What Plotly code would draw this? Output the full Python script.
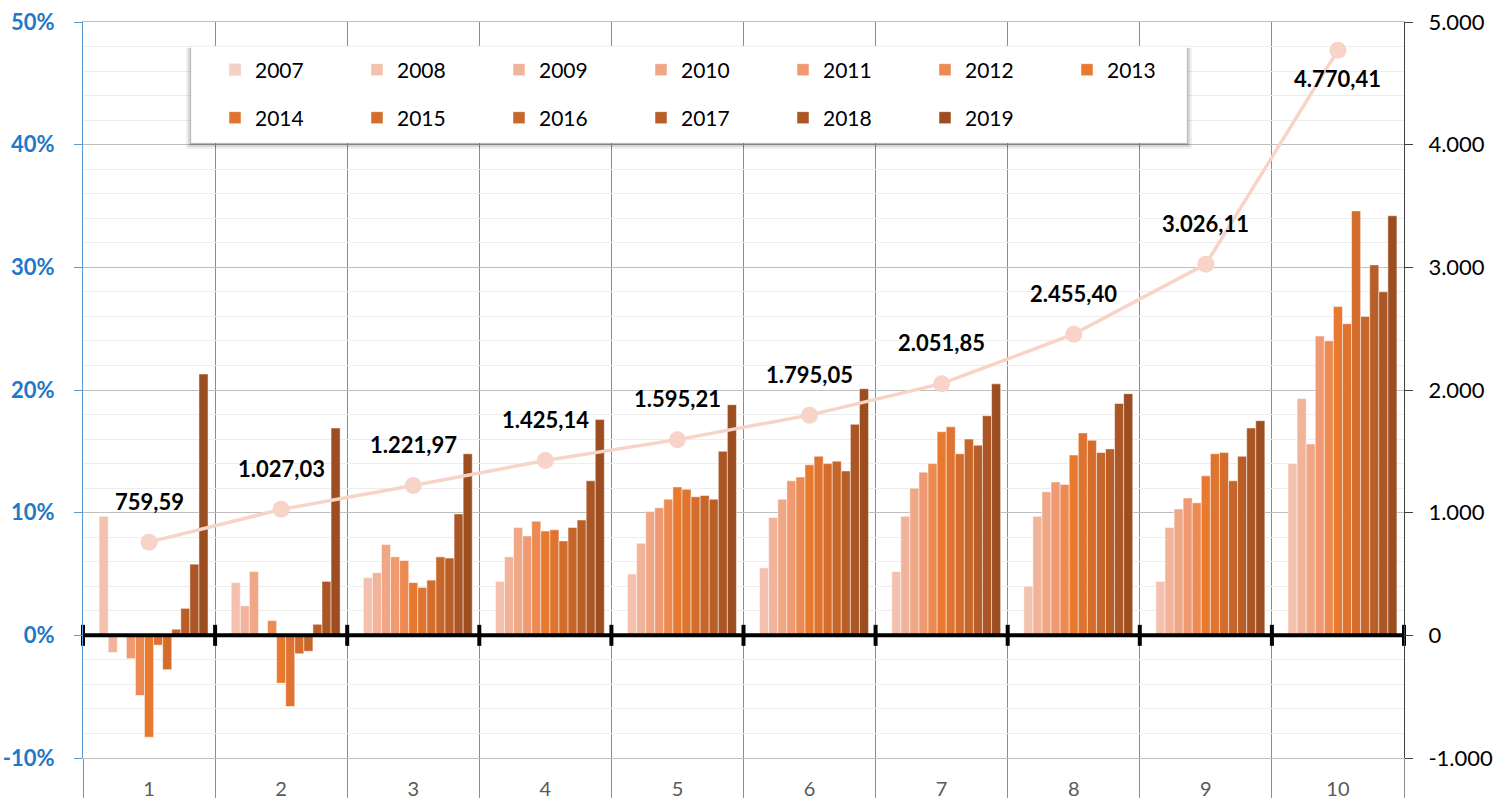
import plotly.graph_objects as go

# ---------------- data ----------------
categories = [1, 2, 3, 4, 5, 6, 7, 8, 9, 10]
years = ["2007", "2008", "2009", "2010", "2011", "2012", "2013",
         "2014", "2015", "2016", "2017", "2018", "2019"]

r2008 = [9.7, 4.3, 4.7, 4.4, 5.0, 5.5, 5.2, 4.0, 4.4, 14.0]
r2009 = [-1.4, 2.4, 5.1, 6.4, 7.5, 9.6, 9.7, 9.7, 8.8, 19.3]
r2010 = [0.0, 5.2, 7.4, 8.8, 10.1, 11.1, 12.0, 11.7, 10.3, 15.6]
r2011 = [-1.9, 0.0, 6.4, 8.1, 10.4, 12.6, 13.3, 12.5, 11.2, 24.4]
r2012 = [-4.9, 1.2, 6.1, 9.3, 11.1, 12.9, 14.0, 12.3, 10.8, 24.0]
r2013 = [-8.3, -3.9, 4.3, 8.5, 12.1, 13.9, 16.6, 14.7, 13.0, 26.8]
r2014 = [-0.8, -5.8, 3.9, 8.6, 11.9, 14.6, 17.0, 16.5, 14.8, 25.4]
r2015 = [-2.8, -1.5, 4.5, 7.7, 11.3, 14.0, 14.8, 15.9, 14.9, 34.6]
r2016 = [0.5, -1.3, 6.4, 8.8, 11.4, 14.2, 16.0, 14.9, 12.6, 26.0]
r2017 = [2.2, 0.9, 6.3, 9.4, 11.1, 13.4, 15.5, 15.2, 14.6, 30.2]
r2018 = [5.8, 4.4, 9.9, 12.6, 15.0, 17.2, 17.9, 18.9, 16.9, 28.0]
r2019 = [21.3, 16.9, 14.8, 17.6, 18.8, 20.1, 20.5, 19.7, 17.5, 34.2]

line_2007 = [759.59, 1027.03, 1221.97, 1425.14, 1595.21,
             1795.05, 2051.85, 2455.40, 3026.11, 4770.41]

pct_ticks = [-10, 0, 10, 20, 30, 40, 50]
val_ticks = [-1000, 0, 1000, 2000, 3000, 4000, 5000]

# ---------------- styles ----------------
bar_series = {
    "2008": r2008, "2009": r2009, "2010": r2010, "2011": r2011,
    "2012": r2012, "2013": r2013, "2014": r2014, "2015": r2015,
    "2016": r2016, "2017": r2017, "2018": r2018, "2019": r2019,
}
colors = {
    "2007": "#F7CFC3", "2008": "#F4C1AE", "2009": "#F2B39B", "2010": "#F0A786",
    "2011": "#EF9A72", "2012": "#EC8A52", "2013": "#E87A30", "2014": "#DE7430",
    "2015": "#D46D2C", "2016": "#C7662A", "2017": "#B95E27", "2018": "#AB5624",
    "2019": "#9C4E20",
}
FONT = "Lato, 'Open Sans', sans-serif"

W, H = 1507, 805
ML, MR, MT, MB = 83, 103, 22, 47
PW, PH = W - ML - MR, H - MT - MB


def px_x(p):
    return (p - ML) / PW


def px_y(p):
    return (H - MB - p) / PH


def eu(v, dec=2):
    s = f"{v:,.{dec}f}"
    return s.replace(",", "X").replace(".", ",").replace("X", ".")


fig = go.Figure()

n_slots = len(years)
slot_w = 0.0687
group_w = slot_w * n_slots
row1 = years[:7]

for i, yr in enumerate(years):
    leg = "legend" if yr in row1 else "legend2"
    if yr in bar_series:
        fig.add_trace(go.Bar(
            x=categories, y=bar_series[yr], name=yr,
            width=slot_w, offset=-group_w / 2 + i * slot_w,
            marker=dict(color=colors[yr], line=dict(color="rgba(255,255,255,0.7)", width=0.7)),
            legend=leg, hoverinfo="skip",
        ))
    else:
        # series drawn as the line; legend shows a square swatch
        fig.add_trace(go.Bar(
            x=[categories[0]], y=[None], name=yr,
            marker=dict(color=colors[yr]), legend=leg, hoverinfo="skip",
        ))

# line on the secondary axis
fig.add_trace(go.Scatter(
    x=categories, y=line_2007, yaxis="y2", mode="lines+markers",
    line=dict(color="#F8D3C7", width=3.5),
    marker=dict(color="#F8D3C7", size=17, symbol="circle"),
    showlegend=False, hoverinfo="skip",
))

# bold zero axis with crossing tick marks at category boundaries
bounds = [c - 0.5 for c in categories] + [categories[-1] + 0.5]
fig.add_trace(go.Scatter(
    x=bounds, y=[0] * len(bounds), mode="lines+markers",
    line=dict(color="black", width=4),
    marker=dict(symbol="line-ns", size=15, line=dict(color="black", width=4)),
    showlegend=False, hoverinfo="skip", cliponaxis=False,
))

# data labels
y2max = val_ticks[-1]
for c, v in zip(categories, line_2007):
    below = v > 0.9 * y2max
    fig.add_annotation(
        x=c, y=v, yref="y2", text=eu(v), showarrow=False,
        yshift=-28 if below else 41,
        font=dict(family=FONT, size=22, color="black", weight="bold"),
    )

# legend box with shadow
bx0, bx1, by0, by1 = 191, 1187, 46, 143
for d, a in [(6, 0.06), (4, 0.10), (2, 0.18)]:
    fig.add_shape(type="rect", xref="paper", yref="paper", layer="above",
                  x0=px_x(bx0 - d + 1), x1=px_x(bx1 + d - 1),
                  y0=px_y(by1 + d), y1=px_y(by0 + 2),
                  fillcolor=f"rgba(0,0,0,{a})", line=dict(width=0))
fig.add_shape(type="rect", xref="paper", yref="paper", layer="above",
              x0=px_x(bx0), x1=px_x(bx1), y0=px_y(by1), y1=px_y(by0),
              fillcolor="white", line=dict(color="#D9D9D9", width=0.5))

leg_common = dict(
    orientation="h", xanchor="left", yanchor="middle",
    bgcolor="rgba(0,0,0,0)", borderwidth=0,
    entrywidth=97, entrywidthmode="pixels",
    font=dict(family=FONT, size=21, color="black"),
    itemclick=False, itemdoubleclick=False,
)

fig.update_layout(
    width=W, height=H,
    margin=dict(l=ML, r=MR, t=MT, b=MB, autoexpand=False),
    paper_bgcolor="white", plot_bgcolor="white",
    barmode="overlay",
    showlegend=True,
    legend=dict(x=px_x(215), y=px_y(70), **leg_common),
    legend2=dict(x=px_x(215), y=px_y(118), **leg_common),
    font=dict(family=FONT),
    xaxis=dict(
        range=[0.5, 10.5], tickmode="array", tickvals=categories,
        ticktext=[str(c) for c in categories],
        showgrid=False, zeroline=False, ticks="", automargin=False,
        tickfont=dict(family=FONT, size=20, color="#595959"),
        ticklabelstandoff=13,
        showline=True, mirror=True, linecolor="#BFBFBF", linewidth=1,
        minor=dict(tickmode="array", tickvals=bounds, showgrid=True,
                   gridcolor="#8C8C8C", gridwidth=1,
                   ticks="outside", ticklen=39, tickcolor="#8C8C8C", tickwidth=1),
    ),
    yaxis=dict(
        range=[pct_ticks[0], pct_ticks[-1]], tickmode="array", tickvals=pct_ticks,
        ticktext=[f"{t}%" for t in pct_ticks], automargin=False,
        showgrid=True, gridcolor="#BFBFBF", gridwidth=1, zeroline=False,
        minor=dict(dtick=2, showgrid=True, gridcolor="#EDEDED", gridwidth=1),
        showline=True, linecolor="#5B9BD5", linewidth=1,
        ticks="outside", ticklen=8, tickcolor="#5B9BD5",
        tickfont=dict(family=FONT, size=22, color="#1F78C8", weight="bold"),
        ticklabelstandoff=15,
    ),
    yaxis2=dict(
        overlaying="y", side="right", automargin=False,
        range=[val_ticks[0], val_ticks[-1]], tickmode="array", tickvals=val_ticks,
        ticktext=[eu(t, 0) for t in val_ticks],
        showgrid=False, zeroline=False,
        showline=True, linecolor="#404040", linewidth=1,
        ticks="outside", ticklen=8, tickcolor="#404040",
        tickfont=dict(family=FONT, size=22, color="black"),
        ticklabelstandoff=11,
    ),
)

fig.write_html(
    "out.html",
    config={"displayModeBar": False},
    post_script="document.body.style.margin='0';document.body.style.overflow='hidden';",
)
